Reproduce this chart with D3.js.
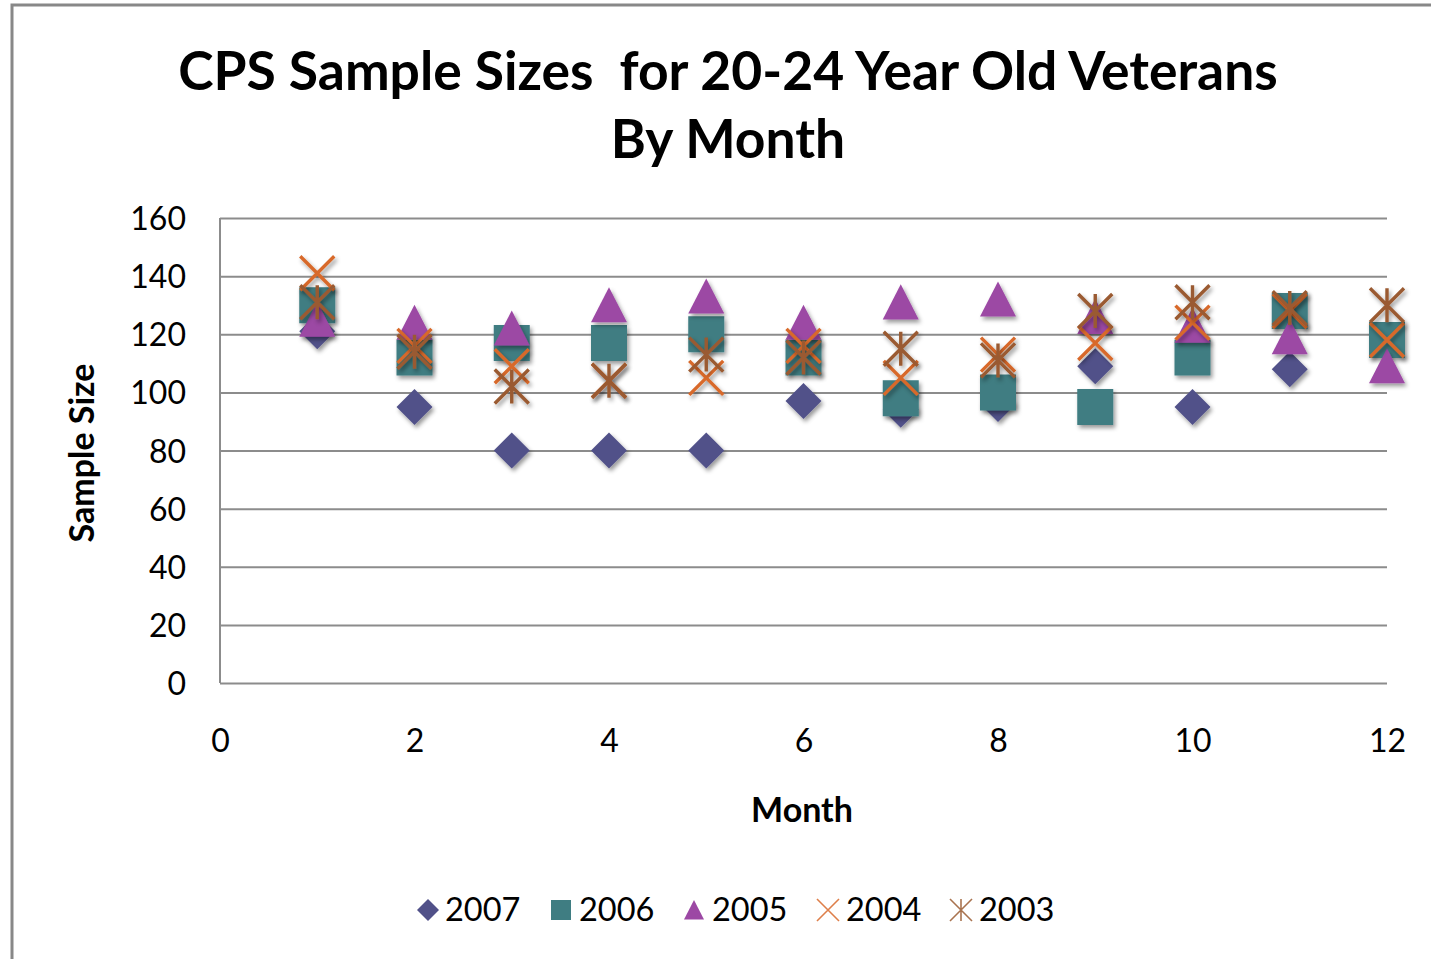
<!DOCTYPE html>
<html>
<head>
<meta charset="utf-8">
<script src="https://cdn.jsdelivr.net/npm/d3@7"></script>
<style>
  html, body { margin: 0; padding: 0; background: #fff; }
  svg { display: block; }
  text { font-family: Lato, "Open Sans", "Noto Sans", sans-serif; fill: #000; }
</style>
</head>
<body>
<svg id="chart" width="1431" height="959"></svg>
<script>
// Monthly CPS sample sizes, 20-24 year old veterans
const months = [1, 2, 3, 4, 5, 6, 7, 8, 9, 10, 11, 12];
const s2007 = [121, 95, 80, 80, 80, 97, 94, 96, 109, 95, 108, null];
const s2006 = [130, 112, 117, 117, 120, 112, 98, 100, 95, 112, 128, 118];
const s2005 = [125, 124, 122, 130, 133, 124, 131, 132, 126, 123, 119, 109];
const s2004 = [141, 116, 109, 104, 105, 116, 105, 113, 117, 124, 128, 118];
const s2003 = [131, 114, 102, 104, 113, 112, 115, 111, 128, 131, 129, 130];

const seriesNames = ["2007", "2006", "2005", "2004", "2003"];
const xTicks = [0, 2, 4, 6, 8, 10, 12];
const yTicks = [0, 20, 40, 60, 80, 100, 120, 140, 160];

const series = [
  { name: "2007", values: s2007, shape: "diamond",  color: "#515189" },
  { name: "2006", values: s2006, shape: "square",   color: "#3f7d82" },
  { name: "2005", values: s2005, shape: "triangle", color: "#9c48a4" },
  { name: "2004", values: s2004, shape: "x",        color: "#d8692a" },
  { name: "2003", values: s2003, shape: "star",     color: "#9a5a30" }
];

const svg = d3.select("#chart");

// drop shadow used by the plotted markers
const defs = svg.append("defs");
const f = defs.append("filter").attr("id", "shadow")
  .attr("x", "-50%").attr("y", "-50%").attr("width", "200%").attr("height", "200%");
f.append("feDropShadow").attr("dx", 2).attr("dy", 3).attr("stdDeviation", 2)
  .attr("flood-color", "#000").attr("flood-opacity", 0.4);

// outer chart border
svg.append("rect").attr("x", 12).attr("y", 5).attr("width", 1500).attr("height", 1000)
  .attr("fill", "#fff").attr("stroke", "#888").attr("stroke-width", 3);

// title
const title = svg.append("text").attr("text-anchor", "middle").attr("font-weight", "bold");
const t1 = title.append("tspan").attr("x", 728).attr("y", 90)
  .attr("xml:space", "preserve").style("white-space", "pre")
  .text("CPS Sample Sizes  for 20-24 Year Old Veterans");
const t2 = title.append("tspan").attr("x", 728).attr("y", 158).text("By Month");
title.attr("font-size", 48);
const w1 = t1.node().getComputedTextLength();
title.attr("font-size", 48 * 1100 / w1);

// scales
const x = d3.scaleLinear().domain([0, 12]).range([220, 1387]);
const y = d3.scaleLinear().domain([0, 160]).range([683, 218]);

// horizontal gridlines + y axis labels
const yAxis = svg.append("g").attr("transform", `translate(${x(0)},0)`)
  .call(d3.axisLeft(y).tickValues(yTicks).tickSize(-(x(12) - x(0))).tickPadding(34).tickFormat(d3.format("d")));
yAxis.select(".domain").attr("stroke", "#8c8c8c").attr("stroke-width", 2)
  .attr("d", `M0,${y(160)}V${y(0)}`);
yAxis.selectAll(".tick line").attr("stroke", "#8c8c8c").attr("stroke-width", 2);
yAxis.selectAll(".tick text").attr("font-size", 32).attr("font-family", "Lato, sans-serif")
  .attr("fill", "#000").attr("dy", "0.36em");

// x axis labels
const xAxis = svg.append("g").attr("transform", `translate(0,${y(0)})`)
  .call(d3.axisBottom(x).tickValues(xTicks).tickSize(0).tickPadding(46).tickFormat(d3.format("d")));
xAxis.select(".domain").remove();
xAxis.selectAll(".tick text").attr("font-size", 32).attr("font-family", "Lato, sans-serif").attr("fill", "#000");

// axis titles
svg.append("text").attr("transform", "translate(94,453) rotate(-90)")
  .attr("text-anchor", "middle").attr("font-weight", "bold").attr("font-size", 34)
  .text("Sample Size");
svg.append("text").attr("x", 802).attr("y", 822)
  .attr("text-anchor", "middle").attr("font-weight", "bold").attr("font-size", 34)
  .text("Month");

// marker path generators (size = full box width)
function markerPath(shape, s) {
  const h = s / 2;
  switch (shape) {
    case "diamond": return `M0,${-h}L${h},0L0,${h}L${-h},0Z`;
    case "square": return `M${-h},${-h}H${h}V${h}H${-h}Z`;
    case "triangle": return `M0,${-h}L${h},${h * 0.95}L${-h},${h * 0.95}Z`;
    case "x": return `M${-h},${-h}L${h},${h}M${h},${-h}L${-h},${h}`;
    case "star": return `M${-h},${-h}L${h},${h}M${h},${-h}L${-h},${h}M0,${-h}V${h}`;
  }
}
const isLine = s => s === "x" || s === "star";

// plotted markers
series.forEach(sr => {
  const pts = months.map((m, i) => ({ m, v: sr.values[i] })).filter(d => d.v != null);
  svg.append("g").attr("class", "series-" + sr.name).attr("filter", "url(#shadow)")
    .selectAll("path").data(pts).join("path")
    .attr("transform", d => `translate(${x(d.m)},${y(d.v)})`)
    .attr("d", markerPath(sr.shape, isLine(sr.shape) ? 34 : 36))
    .attr("fill", isLine(sr.shape) ? "none" : sr.color)
    .attr("stroke", isLine(sr.shape) ? sr.color : "none")
    .attr("stroke-width", isLine(sr.shape) ? 3.4 : 0);
});

// legend
const legendItems = [
  { mx: 428, tx: 445 },
  { mx: 561, tx: 579 },
  { mx: 694, tx: 712 },
  { mx: 828, tx: 846 },
  { mx: 961, tx: 979 }
];
const legend = svg.append("g");
series.forEach((sr, i) => {
  const it = legendItems[i];
  legend.append("path")
    .attr("transform", `translate(${it.mx},910)`)
    .attr("d", markerPath(sr.shape, isLine(sr.shape) ? 22 : (sr.shape === "diamond" ? 22 : 20)))
    .attr("fill", isLine(sr.shape) ? "none" : sr.color)
    .attr("stroke", isLine(sr.shape) ? sr.color : "none")
    .attr("stroke-opacity", 0.85)
    .attr("stroke-width", isLine(sr.shape) ? 1.6 : 0);
  legend.append("text").attr("x", it.tx).attr("y", 921).attr("font-size", 32.5)
    .text(seriesNames[i]);
});
</script>
</body>
</html>
